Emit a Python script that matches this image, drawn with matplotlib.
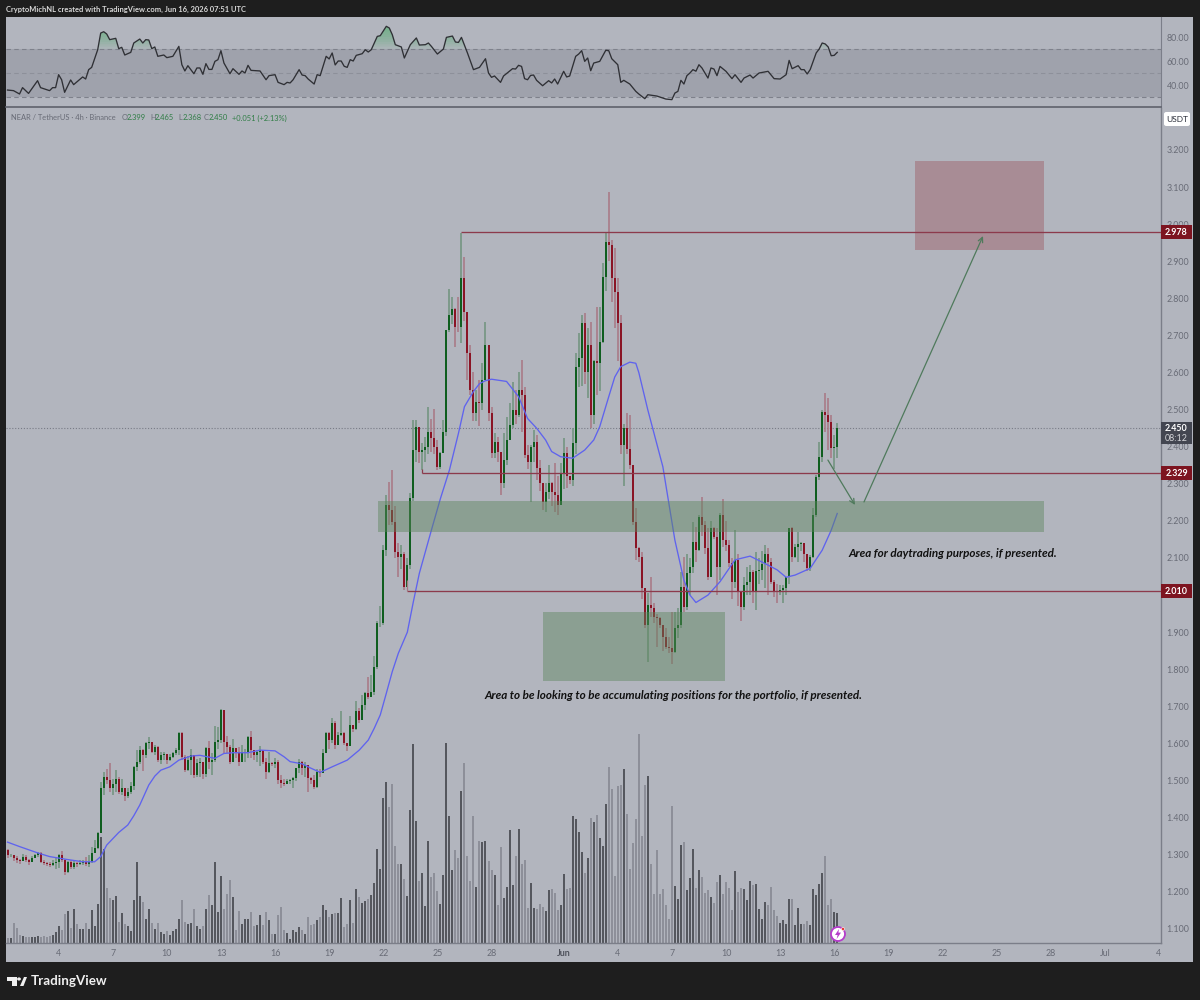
import matplotlib
matplotlib.use("Agg")
import matplotlib.pyplot as plt
import numpy as np
from matplotlib.patches import Rectangle, Circle, Polygon, FancyBboxPatch

open0 = 1.312
close_a = [1.299,1.299,1.290,1.287,1.283,1.295,1.287,1.281,1.290,1.298,1.304,1.281,1.277,1.274,1.272,1.277,1.281,1.299,1.286,1.254,1.281,1.268,1.277,1.274,1.279,1.281,1.274,1.281,1.304,1.317,1.358]
high_a = [1.315,1.303,1.300,1.296,1.288,1.302,1.300,1.288,1.297,1.303,1.308,1.306,1.285,1.280,1.280,1.285,1.290,1.302,1.310,1.288,1.284,1.285,1.285,1.280,1.285,1.287,1.295,1.300,1.320,1.340,1.362]
low_a = [1.292,1.293,1.282,1.278,1.275,1.283,1.280,1.272,1.280,1.290,1.295,1.277,1.272,1.269,1.268,1.270,1.262,1.265,1.280,1.245,1.250,1.262,1.262,1.268,1.272,1.272,1.270,1.268,1.278,1.305,1.315]
close_b = [1.481,1.510,1.501,1.479,1.492,1.503,1.470,1.481,1.457,1.470,1.485,1.537,1.550,1.582,1.569,1.600,1.605,1.578,1.590,1.555,1.569,1.571,1.555,1.564,1.573,1.582,1.627,1.564,1.528,1.555,1.569,1.515,1.546,1.550,1.517,1.587,1.551,1.555,1.605,1.609,1.690,1.605,1.591,1.551,1.587,1.578,1.551,1.578,1.578,1.618,1.582,1.569]
high_b = [1.495,1.522,1.530,1.546,1.505,1.528,1.510,1.505,1.470,1.480,1.495,1.540,1.582,1.592,1.585,1.605,1.618,1.605,1.595,1.592,1.578,1.576,1.570,1.572,1.578,1.588,1.630,1.630,1.570,1.565,1.585,1.560,1.557,1.560,1.550,1.590,1.607,1.575,1.648,1.645,1.692,1.688,1.620,1.595,1.612,1.585,1.590,1.595,1.585,1.620,1.633,1.582]
low_b = [1.360,1.460,1.490,1.470,1.460,1.470,1.463,1.460,1.446,1.452,1.465,1.475,1.525,1.545,1.527,1.560,1.585,1.575,1.570,1.550,1.545,1.555,1.545,1.553,1.562,1.570,1.570,1.555,1.522,1.525,1.515,1.508,1.510,1.510,1.505,1.510,1.530,1.515,1.550,1.585,1.600,1.575,1.575,1.545,1.552,1.560,1.540,1.550,1.550,1.560,1.560,1.555]
close_c = [1.578,1.582,1.551,1.524,1.546,1.545,1.551,1.501,1.493,1.491,1.500,1.501,1.506,1.533,1.551,1.533,1.542,1.506,1.501,1.483,1.524,1.520,1.575,1.627,1.609,1.654,1.596,1.623,1.627,1.600,1.593,1.650,1.638,1.688,1.663,1.703,1.735,1.724,1.740,1.807]
high_c = [1.582,1.592,1.582,1.560,1.578,1.550,1.560,1.555,1.515,1.505,1.505,1.505,1.510,1.535,1.557,1.553,1.550,1.530,1.510,1.515,1.530,1.530,1.586,1.630,1.630,1.668,1.660,1.630,1.688,1.630,1.600,1.675,1.650,1.715,1.695,1.730,1.740,1.780,1.785,1.835]
low_c = [1.550,1.540,1.545,1.505,1.520,1.540,1.535,1.490,1.480,1.484,1.490,1.490,1.480,1.500,1.520,1.515,1.510,1.470,1.490,1.476,1.480,1.510,1.520,1.575,1.585,1.600,1.585,1.595,1.620,1.595,1.580,1.595,1.630,1.635,1.655,1.665,1.690,1.720,1.725,1.730]
close_d = [1.924,1.924,2.122,2.243,2.230,2.198,2.117,2.102,2.110,2.023,2.081,2.261,2.391,2.452,2.387,2.390,2.400,2.440,2.423,2.400,2.346,2.383,2.441,2.715,2.755,2.771,2.724,2.722,2.854,2.764,2.652,2.553,2.490,2.520,2.518,2.580,2.674,2.490,2.382,2.414,2.387,2.301,2.364,2.418,2.459,2.499,2.486,2.553,2.540,2.378,2.360,2.400,2.414,2.342,2.301,2.252,2.279,2.301,2.279,2.270,2.243,2.328,2.382,2.320,2.310,2.409,2.616,2.638,2.733,2.602,2.674,2.485,2.630,2.625,2.683,2.858,2.953,2.944,2.854,2.818,2.733]
high_d = [1.930,1.970,2.135,2.270,2.306,2.337,2.240,2.140,2.135,2.117,2.100,2.275,2.472,2.472,2.453,2.410,2.427,2.508,2.476,2.503,2.418,2.387,2.472,2.715,2.824,2.804,2.773,2.804,2.977,2.912,2.764,2.674,2.602,2.553,2.580,2.625,2.737,2.674,2.508,2.436,2.427,2.387,2.436,2.480,2.517,2.575,2.553,2.602,2.634,2.562,2.405,2.405,2.445,2.432,2.364,2.301,2.301,2.351,2.305,2.355,2.320,2.355,2.423,2.400,2.320,2.450,2.652,2.706,2.755,2.760,2.720,2.737,2.634,2.778,2.778,2.895,2.977,3.088,2.957,2.935,2.854]
low_d = [1.800,1.915,1.920,2.105,2.190,2.190,2.100,2.050,2.070,2.015,2.040,2.070,2.255,2.360,2.355,2.337,2.360,2.380,2.385,2.380,2.337,2.340,2.430,2.430,2.710,2.730,2.670,2.710,2.680,2.740,2.580,2.540,2.470,2.470,2.455,2.500,2.600,2.470,2.370,2.370,2.360,2.270,2.290,2.350,2.430,2.450,2.460,2.480,2.440,2.370,2.340,2.250,2.360,2.310,2.280,2.230,2.225,2.260,2.240,2.225,2.215,2.260,2.285,2.290,2.300,2.295,2.380,2.560,2.565,2.570,2.530,2.450,2.460,2.540,2.550,2.680,2.820,2.900,2.790,2.720,2.630]
close_e = [2.405,2.450,2.395,2.350,2.197,2.126,2.103,2.018,1.919,1.973,1.964,1.942,1.937,1.919,1.888,1.861,1.856,1.847,1.910,1.919,2.022,1.969,2.059,2.077,2.144,2.121,2.211,2.189,2.126,2.050,2.180,2.157,2.077,2.216,2.148,2.135,2.086,2.036,2.095,2.009,1.969,2.027,2.036,2.063,2.009,2.066,2.068,2.085,2.110,2.090,2.036,2.009,2.007,2.013,2.018,2.050,2.180,2.103,2.130,2.139,2.140,2.112,2.072,2.103,2.216,2.319,2.373,2.494,2.485,2.467,2.396,2.400,2.450]
high_e = [2.755,2.460,2.490,2.485,2.350,2.235,2.130,2.117,2.018,2.005,2.050,1.980,1.950,1.940,1.920,1.910,1.888,1.955,1.955,1.964,2.063,2.103,2.112,2.100,2.198,2.184,2.216,2.265,2.200,2.180,2.200,2.184,2.180,2.220,2.260,2.200,2.148,2.100,2.175,2.110,2.000,2.050,2.077,2.080,2.068,2.117,2.100,2.120,2.135,2.126,2.100,2.040,2.030,2.027,2.027,2.050,2.180,2.184,2.139,2.171,2.142,2.140,2.112,2.108,2.234,2.324,2.414,2.499,2.544,2.530,2.485,2.432,2.463]
low_e = [2.380,2.294,2.380,2.340,2.190,2.095,2.090,1.990,1.910,1.820,1.940,1.925,1.860,1.910,1.850,1.855,1.845,1.815,1.845,1.885,1.910,1.955,1.960,2.000,2.060,2.090,2.120,2.160,2.110,2.040,2.060,2.150,2.000,2.040,2.130,2.120,2.075,1.990,2.020,1.970,1.930,1.960,2.000,2.000,1.980,1.960,2.030,2.040,2.020,2.000,2.030,1.995,1.980,2.000,1.980,2.000,2.030,2.090,2.100,2.090,2.120,2.090,2.065,2.065,2.100,2.210,2.310,2.360,2.440,2.390,2.370,2.340,2.370]
volume = [16,14,60,44,25,21,18,18,18,18,20,18,20,18,20,25,33,50,40,88,96,46,103,58,43,43,60,43,100,50,116,
318,283,165,136,128,140,64,90,58,50,36,128,244,140,123,71,103,60,41,60,33,26,36,23,36,43,71,128,63,58,60,103,50,43,50,103,143,113,244,93,200,103,146,188,138,40,96,58,71,71,93,50,53,83,53,93,68,28,28,83,108,38,31,13,40,33,48,40,28,78,53,56,70,78,115,100,78,86,91,91,135,48,58,128,60,163,138,120,125,133,143,180,283,221,435,483,408,478,290,236,238,193,140,398,598,365,185,210,110,305,198,211,155,118,205,601,380,218,280,256,455,540,260,185,380,168,306,303,306,246,218,205,113,288,135,168,338,173,261,341,238,248,105,181,105,101,116,108,95,160,161,150,98,115,206,161,166,381,372,332,274,210,256,375,363,383,316,290,418,528,463,201,470,473,523,386,223,301,371,626,320,473,500,238,146,280,146,163,113,73,410,171,133,293,302,160,195,281,166,220,198,150,158,138,120,184,205,148,184,165,100,215,152,165,163,128,185,173,178,103,73,123,113,168,98,80,60,70,56,133,131,54,105,58,58,65,54,163,143,176,210,260,113,131,92,90]

ma_bar = [0,4,10,14,20,25,29,31,33,35,37,40,42,44,47,49,51,54,57,61,64,69,72,75,80,84,89,92,94,98,101,104,108,113,117,120,122,124,126,128,130,133,135,137,141,144,147,150,152,155,157,159,161,166,170,173,176,179,181,184,188,192,195,197,200,202,204,207,209,210,213,218,222,225,227,229,233,237,242,247,252,256,259,262,267,271,274,276]
ma_val = [1.334,1.322,1.305,1.295,1.287,1.281,1.281,1.295,1.326,1.343,1.360,1.380,1.405,1.434,1.488,1.512,1.528,1.537,1.555,1.566,1.568,1.560,1.573,1.575,1.575,1.582,1.580,1.564,1.551,1.545,1.533,1.522,1.537,1.555,1.582,1.609,1.641,1.677,1.735,1.794,1.843,1.900,1.982,2.059,2.175,2.260,2.337,2.436,2.508,2.549,2.570,2.578,2.582,2.576,2.535,2.476,2.450,2.418,2.387,2.373,2.369,2.391,2.418,2.454,2.535,2.588,2.616,2.628,2.625,2.600,2.499,2.346,2.148,2.040,2.000,1.980,2.000,2.036,2.095,2.105,2.085,2.068,2.048,2.054,2.072,2.121,2.175,2.220]

rsi_bar = [0,2,4,5,7,10,11,14,15,16,17,18,19,21,22,25,26,27,28,30,31,32,33,34,36,37,38,39,41,42,44,45,46,47,48,49,50,52,53,55,57,58,59,60,62,63,64,65,66,67,68,69,70,71,72,74,75,77,78,79,80,81,84,86,87,89,90,92,93,94,95,97,98,99,100,102,103,104,106,107,108,109,110,111,112,113,114,115,116,118,119,120,121,123,124,126,127,128,129,131,132,134,136,137,139,140,141,143,145,146,148,149,150,151,153,155,157,159,160,161,162,164,165,168,169,170,171,172,173,174,175,176,178,180,181,182,183,185,186,187,189,190,191,192,193,194,195,197,199,200,201,203,204,205,207,209,210,212,213,216,219,221,222,223,224,225,226,227,228,229,230,231,233,234,235,236,237,239,241,242,244,245,247,248,250,253,255,257,259,260,261,263,264,265,266,267,269,270,271,272,273,274,275,276]
rsi_val = [35.8,35.3,32.5,37.8,33.0,43.6,37.8,35.3,37.8,37.8,48.6,44.4,33.9,44.2,40.3,46.7,45.0,52.8,54.7,69.4,83.3,84.4,82.5,77.8,78.9,70.3,71.4,65.0,67.2,75.0,78.3,75.0,77.8,77.5,70.3,71.7,63.9,65.0,62.8,63.9,72.2,56.9,51.7,56.1,49.4,54.2,54.2,48.9,57.8,53.0,53.0,59.7,61.1,68.6,58.3,49.4,53.6,48.9,51.7,50.0,56.4,52.2,51.7,44.4,47.8,48.6,42.2,40.3,42.2,41.7,44.4,52.8,48.3,47.8,45.0,40.8,48.6,47.8,63.9,61.7,66.7,56.7,60.0,60.0,55.6,54.7,61.1,60.0,64.7,66.1,69.4,67.5,69.4,80.5,81.1,88.9,87.5,81.9,73.6,71.7,62.5,73.6,79.2,73.3,73.6,75.0,72.2,65.8,70.0,79.7,80.8,75.8,75.5,79.7,66.7,52.8,54.7,61.9,50.0,46.4,47.5,42.2,47.5,53.6,53.3,56.4,55.5,45.3,44.4,48.0,48.3,43.9,39.4,43.6,41.7,45.0,40.8,51.4,46.7,47.5,63.9,65.8,68.6,59.7,62.5,51.9,58.3,59.7,68.9,68.6,61.9,56.9,42.2,43.9,40.8,34.7,32.5,28.6,31.9,30.8,28.3,27.8,33.3,34.7,43.9,40.8,47.8,50.0,52.8,51.5,56.9,54.2,45.8,54.2,53.3,47.8,55.5,51.4,45.3,48.6,42.2,45.8,48.3,45.8,50.0,51.4,45.3,45.0,48.6,60.5,53.6,56.1,52.8,52.8,49.2,52.8,66.7,70.0,75.0,74.2,71.7,64.4,64.7,67.2]

price_ticks = [3.2,3.1,3.0,2.9,2.8,2.7,2.6,2.5,2.4,2.3,2.2,2.1,1.9,1.8,1.7,1.6,1.5,1.4,1.3,1.2,1.1]
rsi_ticks = [80,60,40]
date_bars = [17,35,53,71,89,107,125,143,161,185,203,221,239,257,275,293,311,329,347,365,383]
date_labels = ['4','7','10','13','16','19','22','25','28','Jun','4','7','10','13','16','19','22','25','28','Jul','4']
levels = [2.978, 2.329, 2.010]
level_start = [151, 138, 133]
last_price = 2.450

close = np.array(close_a + close_b + close_c + close_d + close_e)
high = np.array(high_a + high_b + high_c + high_d + high_e)
low = np.array(low_a + low_b + low_c + low_d + low_e)
opn = np.r_[open0, close[:-1]]
vol = np.array(volume)
n = len(close)
assert len(high) == n and len(low) == n and len(vol) == n, (n, len(high), len(low), len(vol))
assert len(rsi_bar) == len(rsi_val), (len(rsi_bar), len(rsi_val))
assert len(ma_bar) == len(ma_val), (len(ma_bar), len(ma_val))
bars = np.arange(n)
up = close >= opn

BG = '#1e1e1e'; PANEL = '#b2b5be'; GRAY = '#686b76'; FONT = 'Lato'
W, H = 1200, 1000
TICK = 6.4
plt.rcParams['font.family'] = FONT
fig = plt.figure(figsize=(12, 10), dpi=100, facecolor=BG)

def rect(x0, y0, x1, y1):
    return [x0 / W, 1 - y1 / H, (x1 - x0) / W, (y1 - y0) / H]

fig.patches.append(Rectangle((6 / W, 1 - 962 / H), 1187 / W, 945 / H, transform=fig.transFigure, fc=PANEL, ec='none', zorder=-5))

XLIM = (-0.5, 383.7)
BAR_LW = 1.44   # 2 px
# volume
axv = fig.add_axes(rect(6, 108, 1161, 943), facecolor='none', zorder=1)
axv.vlines(bars[up], 0, vol[up], color='#55575e', lw=BAR_LW)
axv.vlines(bars[~up], 0, vol[~up], color='#8d8f99', lw=BAR_LW)
axv.set_xlim(*XLIM); axv.set_ylim(0, 2505); axv.axis('off')

# price
ax = fig.add_axes(rect(6, 108, 1161, 943), facecolor='none', zorder=3)
ax.set_xlim(*XLIM); ax.set_ylim(1.0620, 3.3132)
GC, RC = '#0f5e1f', '#8a1425'
GW, RW = '#6f927c', '#a87682'
ax.vlines(bars[up], low[up], high[up], color=GW, lw=1.1, zorder=2)
ax.vlines(bars[~up], low[~up], high[~up], color=RW, lw=1.1, zorder=2)
ax.vlines(bars[up], opn[up], close[up], color=GC, lw=BAR_LW, zorder=3)
ax.vlines(bars[~up], close[~up], opn[~up], color=RC, lw=BAR_LW, zorder=3)
ax.plot(ma_bar, ma_val, color='#5f63ee', lw=0.95, zorder=4, solid_joinstyle='round')
ax.axhline(last_price, color='#787b86', lw=0.8, ls=(0, (1, 1.6)), zorder=1)

zone_color = '#5d865e'
ax.add_patch(Rectangle((123.3, 2.170), 221.5, 0.0845, fc=zone_color, ec='none', alpha=0.45, zorder=5))
ax.add_patch(Rectangle((178.2, 1.768), 60.5, 0.1855, fc=zone_color, ec='none', alpha=0.45, zorder=5))
ax.add_patch(Rectangle((301.9, 2.930), 42.9, 0.240, fc='#9c5a65', ec='none', alpha=0.45, zorder=5))
for lv, st in zip(levels, level_start):
    ax.hlines(lv, st, XLIM[1], color='#8c3a4c', lw=0.95, zorder=6)
ax.vlines(level_start[1], 2.329, 2.34, color='#8c3a4c', lw=0.9, zorder=6)
ax.vlines(level_start[2], 2.01, 2.04, color='#a87682', lw=0.9, zorder=6)
for a, b in [((272.9, 2.364), (281.9, 2.243)), ((284.9, 2.251), (324.5, 2.968))]:
    ax.annotate('', xy=b, xytext=a, zorder=7, arrowprops=dict(arrowstyle='->,head_length=0.35,head_width=0.17', color='#4f7a5c', lw=0.9, shrinkA=0, shrinkB=0))
note = dict(fontfamily='Lato', style='italic', weight='bold', fontsize=8.35, color='#111111', va='center', zorder=8)
ax.text(279.7, 2.111, 'Area for daytrading purposes, if presented.', ha='left', **note)
ax.text(158.5, 1.728, 'Area to be looking to be accumulating positions for the portfolio, if presented.', ha='left', **note)

ax.yaxis.tick_right()
ax.set_yticks(price_ticks); ax.set_yticklabels(['%.3f' % v for v in price_ticks], fontsize=TICK, color=GRAY)
ax.set_xticks(date_bars); ax.set_xticklabels(date_labels, fontsize=TICK, color=GRAY)
ax.get_xticklabels()[9].set_fontweight('bold'); ax.get_xticklabels()[9].set_color('#4e515b')
ax.tick_params(axis='both', length=0)
ax.tick_params(axis='y', pad=4)
ax.tick_params(axis='x', pad=4)
for s in ['top', 'left']:
    ax.spines[s].set_visible(False)
ax.spines['right'].set_color('#7b7e89'); ax.spines['right'].set_linewidth(1.0)
ax.spines['bottom'].set_color('#7b7e89'); ax.spines['bottom'].set_linewidth(1.0)

# price labels
ytf = ax.get_yaxis_transform()
PX = 1 / 370.9
def plabel(p, txt, fc, h=14):
    ax.add_patch(Rectangle((1.0, p - h / 2 * PX), 31 / 1155, h * PX, transform=ytf, fc=fc, ec='none', clip_on=False, zorder=9))
    ax.text(1 + 15.5 / 1155, p, txt, transform=ytf, ha='center', va='center', fontsize=TICK, color='white', weight='bold', zorder=10, clip_on=False)
for lv in levels:
    plabel(lv, '%.3f' % lv, '#7d1420')
ax.add_patch(Rectangle((1.0, last_price - 16 * PX), 31 / 1155, 22 * PX, transform=ytf, fc='#434651', ec='none', clip_on=False, zorder=9))
ax.text(1 + 15.5 / 1155, last_price - 0.0 * PX, '%.3f' % last_price, transform=ytf, ha='center', va='center', fontsize=TICK, color='white', weight='bold', zorder=10)
ax.text(1 + 15.5 / 1155, last_price - 10 * PX, '08:12', transform=ytf, ha='center', va='center', fontsize=TICK, color='#d5d6da', zorder=10)

# RSI
axr = fig.add_axes(rect(6, 17, 1161, 107), facecolor='none', zorder=2)
axr.set_xlim(*XLIM); axr.set_ylim(21.67, 96.67)
axr.axhspan(30, 70, color='#9fa2ac', lw=0, zorder=0)
for lv, c in [(70, '#7e818b'), (50, '#8d909a'), (30, '#7e818b')]:
    axr.axhline(lv, color=c, lw=0.8, ls=(0, (4, 3)), zorder=1)
rb, rv = np.array(rsi_bar), np.array(rsi_val)
fx = np.linspace(rb[0], rb[-1], 2000); fy = np.interp(fx, rb, rv)
for lv in np.arange(70, 90, 2.0):
    axr.fill_between(fx, lv, fy, where=fy > lv, color='#4fb06b', alpha=0.085, lw=0, zorder=2)
axr.plot(rb, rv, color='#2f3035', lw=0.95, zorder=3)
axr.yaxis.tick_right()
axr.set_yticks(rsi_ticks); axr.set_yticklabels(['%.2f' % v for v in rsi_ticks], fontsize=TICK, color=GRAY)
axr.set_xticks([]); axr.tick_params(axis='y', length=0, pad=4)
for s in ['top', 'left']:
    axr.spines[s].set_visible(False)
axr.spines['right'].set_color('#7b7e89'); axr.spines['bottom'].set_color('#5f626c'); axr.spines['bottom'].set_linewidth(1.2)

# chrome texts
def T(x, y, s, **k):
    k.setdefault('fontsize', 5.4); k.setdefault('va', 'center')
    fig.text(x / W, 1 - y / H, s, **k)
T(6, 9, 'CryptoMichNL created with TradingView.com, Jun 16, 2026 07:51 UTC', color='#d8d8d8', fontsize=5.4, weight='bold')
T(11, 118, 'NEAR / TetherUS · 4h · Binance', color='#686b76')
G = '#2f7d45'
for x, lab, val in [(122, 'O', '2.399'), (150, 'H', '2.465'), (178, 'L', '2.368'), (204, 'C', '2.450')]:
    T(x, 118, lab, color='#686b76')
    T(x + 5, 118, val, color=G)
T(232, 118, '+0.051 (+2.13%)', color=G)
T(31, 981, 'TradingView', color='#f0f0f0', fontsize=9.6, weight='bold')

# USDT button
fig.patches.append(FancyBboxPatch((1164 / W, 1 - 126 / H), 26 / W, 14 / H, boxstyle='round,pad=0,rounding_size=0.002', transform=fig.transFigure, fc='white', ec='none', zorder=20))
T(1177, 119, 'USDT', color='#2a2e39', fontsize=6.0, ha='center', zorder=21)

# logo
for poly in [[(7, 977), (16.5, 977), (16.5, 986), (12, 986), (12, 980.5), (7, 980.5)],
             [(20, 986), (24, 977), (27, 977), (23.5, 986)]]:
    fig.patches.append(Polygon([(x / W, 1 - y / H) for x, y in poly], transform=fig.transFigure, fc='#f0f0f0', ec='none'))
fig.patches.append(Circle((19 / W, 1 - 979 / H), 0.0016, transform=fig.transFigure, fc='#f0f0f0', ec='none'))

# alert icon, in pixel space
axi = fig.add_axes(rect(828, 924, 848, 944), facecolor='none', zorder=12)
axi.set_xlim(0, 20); axi.set_ylim(20, 0); axi.axis('off')
axi.add_patch(Circle((10, 10), 7, fc='white', ec='#b53ccb', lw=1.3))
axi.add_patch(Polygon([(11, 5), (7, 11), (9.6, 11), (8.6, 15), (13, 8.6), (10.4, 8.6)], fc='#b53ccb', ec='none'))
axi.add_patch(Circle((15, 5), 1.6, fc='#e53935', ec='white', lw=0.4))

fig.savefig('out.png', dpi=100, facecolor=BG)
